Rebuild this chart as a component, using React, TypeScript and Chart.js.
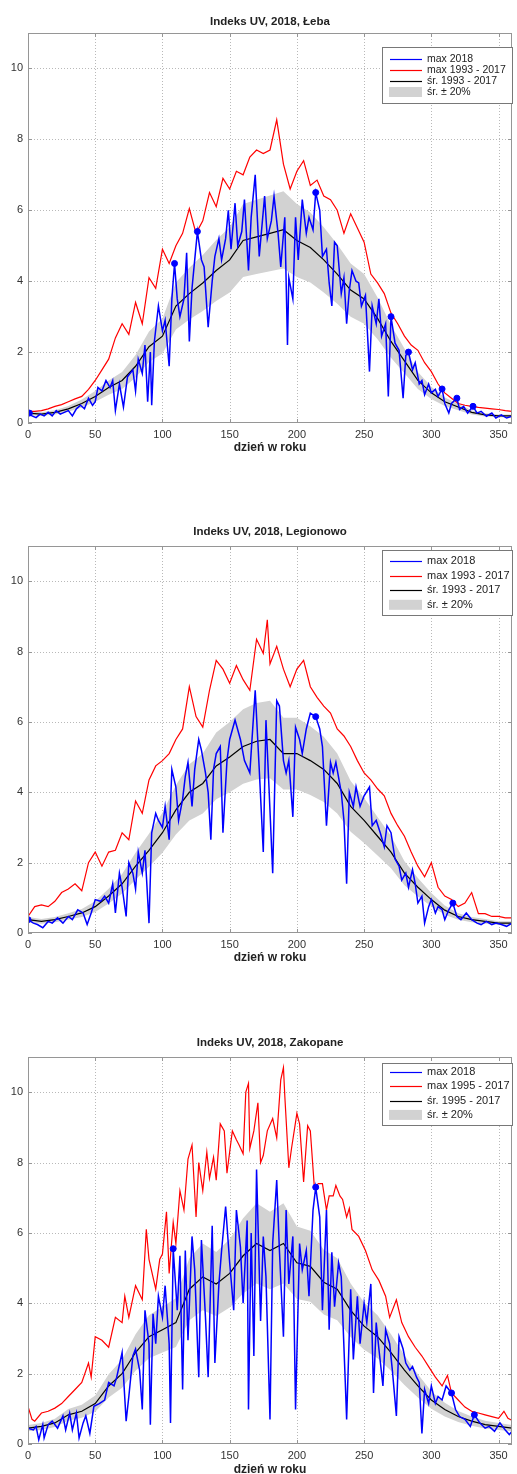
import React, { useEffect, useRef } from "react";
import { Chart, registerables } from "chart.js";

Chart.register(...registerables);

const FONT = 'Arial, "Liberation Sans", Helvetica, sans-serif';
Chart.defaults.font.family = FONT;

// ---------- shared axes ----------
const X_TICKS = [0, 50, 100, 150, 200, 250, 300, 350];
const Y_TICKS = [0, 2, 4, 6, 8, 10];
const X_MAX = 360;
const Y_MAX = 11;
const X_LABEL = "dzień w roku";

// ---------- Łeba ----------
const LEBA_TITLE = "Indeks UV, 2018, Łeba";
const LEBA_LEGEND = ["max 2018", "max 1993 - 2017", "śr. 1993 - 2017", "śr. ± 20%"];
const LEBA_2018_DAYS = [0, 3, 6, 9, 12, 15, 18, 21, 24, 27, 30, 33, 36, 39, 42, 45, 48, 50, 52, 55, 58, 61, 63, 65, 68, 71, 74, 78, 80, 82, 85, 87, 89, 91, 92, 94, 97, 100, 102, 105, 107, 109, 111, 113, 116, 118, 120, 122, 124, 126, 129, 131, 134, 137, 139, 142, 144, 147, 149, 151, 154, 156, 159, 161, 164, 166, 169, 172, 176, 178, 181, 183, 186, 188, 191, 193, 194, 197, 199, 201, 204, 207, 209, 212, 214, 217, 219, 222, 224, 226, 228, 230, 233, 235, 237, 239, 241, 244, 246, 248, 251, 254, 256, 259, 261, 263, 266, 268, 270, 273, 276, 279, 281, 283, 286, 288, 291, 293, 295, 298, 300, 303, 305, 308, 310, 313, 315, 319, 321, 324, 327, 331, 334, 337, 341, 345, 348, 352, 356, 360];
const LEBA_2018_UV = [0.28, 0.2, 0.15, 0.25, 0.2, 0.3, 0.2, 0.35, 0.25, 0.3, 0.35, 0.2, 0.4, 0.5, 0.4, 0.7, 0.5, 0.6, 1.0, 0.9, 1.2, 1.0, 1.2, 0.35, 1.1, 0.45, 1.3, 1.5, 0.9, 1.8, 1.4, 2.2, 0.6, 2.0, 0.5, 2.3, 3.3, 2.6, 2.9, 1.6, 3.5, 4.5, 3.5, 3.0, 3.5, 4.8, 2.3, 3.8, 4.6, 5.4, 4.6, 4.4, 2.7, 4.0, 4.7, 5.2, 4.6, 5.2, 6.0, 4.9, 6.2, 5.0, 5.4, 6.3, 4.3, 5.8, 7.0, 4.7, 6.4, 5.2, 5.7, 6.4, 5.35, 4.4, 5.8, 2.2, 4.1, 3.5, 5.8, 4.6, 6.3, 5.35, 5.8, 5.45, 6.5, 6.0, 4.7, 4.9, 3.95, 3.3, 5.1, 5.0, 3.65, 4.1, 2.8, 3.75, 4.3, 4.0, 3.95, 3.3, 3.6, 1.45, 3.3, 2.8, 3.5, 2.45, 2.8, 0.75, 3.0, 2.25, 2.05, 0.7, 1.9, 2.0, 1.5, 1.7, 1.1, 1.2, 0.8, 1.1, 0.85, 0.95, 0.75, 0.96, 0.55, 0.28, 0.55, 0.7, 0.38, 0.47, 0.28, 0.47, 0.28, 0.33, 0.19, 0.28, 0.14, 0.23, 0.14, 0.19];
const LEBA_MAX_DAYS = [0, 5, 10, 15, 20, 25, 30, 35, 40, 45, 50, 55, 60, 65, 70, 75, 80, 85, 90, 95, 100, 105, 110, 115, 120, 125, 130, 135, 140, 145, 150, 155, 160, 165, 170, 175, 180, 185, 190, 195, 200, 205, 210, 215, 220, 225, 230, 235, 240, 245, 250, 255, 260, 265, 270, 275, 280, 285, 290, 295, 300, 305, 310, 315, 320, 325, 330, 335, 340, 345, 350, 355, 360];
const LEBA_MAX_UV = [0.33, 0.33, 0.35, 0.4, 0.47, 0.52, 0.6, 0.68, 0.75, 0.95, 1.2, 1.5, 1.8, 2.4, 2.8, 2.5, 3.4, 2.8, 4.1, 3.8, 4.9, 4.5, 5.0, 5.35, 6.05, 5.35, 5.7, 6.5, 6.1, 6.9, 6.6, 7.1, 7.0, 7.5, 7.7, 7.6, 7.7, 8.55, 7.3, 6.6, 7.1, 7.4, 6.7, 6.85, 6.4, 6.3, 6.0, 5.35, 5.9, 5.5, 5.1, 4.2, 3.95, 3.65, 3.1, 2.8, 2.45, 2.2, 2.05, 1.7, 1.45, 1.1, 0.85, 0.7, 0.55, 0.5, 0.47, 0.44, 0.42, 0.4, 0.38, 0.35, 0.33];
const LEBA_MEAN_DAYS = [0, 10, 20, 30, 40, 50, 60, 70, 80, 90, 100, 110, 120, 130, 140, 150, 160, 170, 180, 190, 200, 210, 220, 230, 240, 250, 260, 270, 280, 290, 300, 310, 320, 330, 340, 350, 360];
const LEBA_MEAN_UV = [0.28, 0.25, 0.3, 0.4, 0.55, 0.75, 1.0, 1.2, 1.6, 2.15, 2.45, 3.3, 3.65, 3.95, 4.3, 4.6, 5.15, 5.25, 5.35, 5.45, 5.15, 4.95, 4.6, 4.2, 3.75, 3.5, 2.95, 2.3, 1.75, 1.2, 0.85, 0.6, 0.45, 0.3, 0.23, 0.2, 0.2];
const LEBA_REC_DAYS = [1, 109, 126, 214, 270, 283, 308, 319, 331];
const LEBA_REC_UV = [0.28, 4.5, 5.4, 6.5, 3.0, 2.0, 0.96, 0.7, 0.47];

// ---------- Legionowo ----------
const LEG_TITLE = "Indeks UV, 2018, Legionowo";
const LEG_LEGEND = ["max 2018", "max 1993 - 2017", "śr. 1993 - 2017", "śr. ± 20%"];
const LEG_2018_DAYS = [0, 4, 7, 11, 15, 18, 22, 26, 30, 33, 37, 41, 44, 47, 50, 54, 57, 60, 63, 65, 68, 70, 73, 75, 78, 80, 82, 85, 87, 90, 92, 95, 97, 100, 102, 105, 107, 110, 112, 115, 117, 119, 122, 124, 127, 129, 132, 134, 136, 138, 140, 143, 145, 148, 150, 154, 158, 161, 165, 169, 172, 175, 177, 179, 182, 185, 187, 190, 192, 194, 197, 199, 202, 204, 207, 210, 214, 217, 219, 222, 225, 227, 229, 233, 235, 237, 239, 242, 244, 247, 250, 254, 256, 259, 262, 265, 267, 270, 273, 276, 278, 281, 283, 286, 288, 290, 293, 295, 298, 300, 303, 305, 308, 310, 313, 316, 319, 322, 326, 330, 334, 337, 341, 345, 348, 352, 356, 360];
const LEG_2018_UV = [0.38, 0.28, 0.24, 0.15, 0.33, 0.28, 0.43, 0.28, 0.47, 0.38, 0.66, 0.57, 0.24, 0.57, 0.95, 0.9, 1.05, 0.85, 1.4, 0.57, 1.7, 1.3, 0.47, 2.0, 1.7, 1.25, 2.3, 1.7, 2.35, 0.28, 2.85, 3.4, 3.2, 3.0, 3.6, 2.65, 4.65, 4.15, 3.2, 3.8, 4.45, 4.85, 3.6, 4.65, 5.5, 5.2, 4.55, 4.0, 2.65, 4.65, 5.1, 5.3, 2.85, 4.9, 5.5, 6.05, 5.5, 4.9, 4.55, 6.9, 4.65, 2.3, 6.05, 4.35, 1.7, 6.6, 6.45, 4.9, 4.55, 4.9, 3.3, 5.85, 5.5, 5.1, 5.8, 6.25, 6.15, 5.8, 5.3, 3.05, 4.85, 4.55, 4.85, 4.0, 3.2, 1.4, 4.0, 3.6, 4.15, 3.6, 3.9, 4.15, 3.05, 3.2, 2.85, 2.45, 3.05, 2.85, 2.1, 1.9, 1.5, 1.7, 1.3, 1.8, 1.4, 0.85, 1.05, 0.28, 0.75, 0.95, 0.57, 0.75, 0.66, 0.38, 0.66, 0.85, 0.47, 0.38, 0.57, 0.38, 0.28, 0.24, 0.33, 0.24, 0.28, 0.24, 0.19, 0.28];
const LEG_MAX_DAYS = [0, 5, 10, 15, 20, 25, 30, 35, 40, 45, 50, 55, 60, 65, 70, 75, 80, 85, 90, 95, 100, 105, 110, 115, 120, 125, 130, 135, 140, 145, 150, 155, 160, 165, 170, 175, 178, 180, 185, 190, 195, 200, 205, 210, 215, 220, 225, 230, 235, 240, 245, 250, 255, 260, 265, 270, 275, 280, 285, 290, 295, 300, 305, 310, 315, 320, 325, 330, 335, 340, 345, 350, 355, 360];
const LEG_MAX_UV = [0.47, 0.75, 0.8, 0.75, 0.9, 1.15, 1.25, 1.4, 1.2, 2.0, 2.3, 1.9, 2.3, 2.35, 2.85, 2.65, 3.75, 3.4, 4.35, 4.75, 4.9, 5.1, 5.5, 5.8, 7.0, 6.15, 5.85, 6.9, 7.75, 7.5, 7.1, 7.6, 7.2, 6.9, 8.35, 7.95, 8.9, 7.65, 8.15, 7.5, 7.0, 7.5, 7.75, 7.0, 6.7, 6.45, 6.25, 5.8, 5.6, 5.3, 4.9, 4.55, 4.35, 4.1, 3.9, 3.4, 3.05, 2.75, 2.3, 1.9, 1.6, 2.0, 1.3, 1.05, 0.95, 0.75, 0.85, 1.15, 0.55, 0.55, 0.47, 0.47, 0.43, 0.43];
const LEG_MEAN_DAYS = [0, 10, 20, 30, 40, 50, 60, 70, 80, 90, 100, 110, 120, 130, 140, 150, 160, 170, 180, 190, 200, 210, 220, 230, 240, 250, 260, 270, 280, 290, 300, 310, 320, 330, 340, 350, 360];
const LEG_MEAN_UV = [0.38, 0.33, 0.38, 0.47, 0.57, 0.75, 1.05, 1.4, 1.9, 2.35, 2.85, 3.5, 4.0, 4.25, 4.75, 5.0, 5.3, 5.45, 5.5, 5.1, 5.1, 4.9, 4.65, 4.25, 3.6, 3.2, 2.75, 2.3, 1.7, 1.3, 0.95, 0.65, 0.47, 0.38, 0.33, 0.28, 0.28];
const LEG_REC_DAYS = [0, 214, 316];
const LEG_REC_UV = [0.38, 6.15, 0.85];

// ---------- Zakopane ----------
const ZAK_TITLE = "Indeks UV, 2018, Zakopane";
const ZAK_LEGEND = ["max 2018", "max 1995 - 2017", "śr. 1995 - 2017", "śr. ± 20%"];
const ZAK_2018_DAYS = [0, 4, 6, 8, 11, 12, 15, 18, 22, 26, 28, 31, 33, 36, 38, 41, 43, 46, 49, 53, 57, 60, 64, 66, 70, 73, 75, 78, 80, 83, 85, 87, 90, 91, 93, 95, 97, 100, 102, 105, 106, 108, 111, 113, 115, 117, 119, 122, 124, 127, 129, 132, 134, 137, 139, 142, 144, 147, 150, 153, 155, 158, 160, 163, 164, 166, 168, 170, 173, 175, 177, 180, 182, 185, 187, 190, 192, 194, 197, 199, 202, 204, 207, 209, 212, 214, 217, 219, 222, 224, 226, 228, 231, 233, 236, 237, 240, 242, 245, 247, 250, 252, 255, 257, 259, 261, 264, 266, 269, 271, 274, 276, 279, 281, 284, 286, 289, 291, 293, 295, 298, 300, 303, 305, 308, 311, 315, 318, 321, 325, 329, 332, 336, 340, 343, 347, 351, 355, 358, 361];
const ZAK_2018_UV = [0.45, 0.4, 0.5, 0.12, 0.55, 0.17, 0.55, 0.65, 0.45, 0.8, 0.4, 0.88, 0.4, 0.88, 0.17, 0.6, 0.8, 0.3, 1.07, 1.15, 1.25, 1.75, 1.65, 1.9, 2.6, 0.65, 1.35, 2.5, 2.7, 2.1, 0.98, 3.8, 2.85, 0.55, 3.7, 2.85, 4.2, 3.6, 4.5, 2.85, 0.6, 5.55, 3.8, 5.35, 1.55, 5.5, 2.95, 5.9, 4.95, 1.9, 5.8, 3.6, 1.9, 6.2, 2.3, 4.55, 5.5, 6.75, 5.15, 3.8, 6.65, 5.6, 4.0, 6.35, 0.98, 6.0, 2.5, 7.8, 3.5, 5.9, 4.75, 0.7, 5.7, 7.5, 5.5, 3.05, 6.65, 4.55, 5.9, 0.98, 5.7, 4.95, 5.5, 4.2, 6.65, 7.3, 6.45, 3.8, 6.65, 3.25, 5.45, 3.9, 5.15, 4.75, 1.75, 0.7, 4.4, 2.4, 4.2, 2.85, 4.0, 3.45, 4.55, 1.45, 3.45, 2.7, 1.65, 3.25, 2.85, 2.1, 0.8, 3.05, 2.7, 2.3, 2.1, 2.2, 1.9, 1.75, 0.3, 1.55, 1.15, 1.65, 1.15, 1.35, 1.25, 1.65, 1.45, 0.98, 0.78, 0.7, 0.5, 0.83, 0.6, 0.45, 0.5, 0.36, 0.6, 0.4, 0.27, 0.4];
const ZAK_MAX_DAYS = [0, 3, 5, 10, 15, 20, 25, 30, 35, 40, 45, 47, 50, 55, 60, 65, 70, 72, 75, 80, 85, 88, 90, 95, 98, 100, 103, 105, 108, 110, 113, 116, 119, 122, 125, 127, 130, 133, 135, 138, 140, 143, 146, 148, 152, 155, 157, 160, 162, 164, 165, 168, 171, 173, 175, 178, 182, 185, 188, 190, 191, 194, 196, 200, 202, 205, 208, 210, 213, 216, 219, 222, 224, 227, 229, 232, 234, 237, 239, 241, 246, 251, 256, 261, 266, 269, 274, 278, 283, 288, 293, 298, 303, 308, 312, 315, 320, 325, 330, 335, 340, 345, 350, 354, 357, 361];
const ZAK_MAX_UV = [1.07, 0.7, 0.65, 0.88, 0.93, 1.02, 1.15, 1.35, 1.55, 1.75, 2.3, 1.9, 3.05, 2.95, 2.75, 3.6, 3.45, 4.2, 3.6, 4.5, 4.1, 6.1, 5.25, 4.4, 5.25, 5.4, 6.6, 4.85, 6.3, 5.7, 7.2, 6.65, 8.1, 8.5, 6.45, 8.0, 7.2, 8.3, 7.55, 8.15, 7.5, 9.1, 8.9, 7.7, 8.9, 8.65, 8.5, 8.25, 10.0, 10.25, 8.4, 8.9, 9.7, 8.0, 8.2, 8.9, 9.25, 8.7, 10.35, 10.7, 9.9, 7.85, 8.4, 9.4, 9.1, 7.45, 9.05, 8.9, 7.3, 7.4, 7.4, 6.65, 7.05, 7.05, 7.35, 7.05, 6.95, 6.45, 6.7, 6.1, 5.9, 5.5, 4.95, 4.65, 4.2, 3.6, 4.1, 3.45, 3.05, 2.75, 2.5, 2.2, 1.9, 1.65, 1.95, 1.45, 1.25, 1.05, 0.93, 0.88, 0.83, 0.78, 0.73, 0.93, 0.73, 0.65];
const ZAK_MEAN_DAYS = [0, 10, 20, 30, 40, 50, 60, 70, 80, 90, 100, 110, 120, 130, 140, 150, 160, 170, 180, 190, 200, 210, 220, 230, 240, 250, 260, 270, 280, 290, 300, 310, 320, 330, 340, 350, 360];
const ZAK_MEAN_UV = [0.45, 0.5, 0.6, 0.83, 0.93, 1.15, 1.65, 2.0, 2.6, 3.05, 3.25, 3.45, 4.4, 4.75, 4.55, 4.85, 5.35, 5.7, 5.5, 5.7, 5.15, 5.05, 4.6, 4.4, 3.8, 3.35, 3.05, 2.6, 2.1, 1.65, 1.25, 0.98, 0.78, 0.65, 0.55, 0.5, 0.45];
const ZAK_REC_DAYS = [108, 214, 315, 332];
const ZAK_REC_UV = [5.55, 7.3, 1.45, 0.83];

// ---------- panels ----------
type Series = { days: number[]; uv: number[] };
type PanelCfg = {
  title: string;
  legend: string[];
  blue: Series;
  red: Series;
  mean: Series;
  rec: Series;
  top: number;
  plotH: number;
  xAxisH: number;
  titleOff: number;
  labelOff: number;
  legTop: number;
  legH: number;
  legRow0: number;
  legStep: number;
  legFont: number;
};

const PANELS: PanelCfg[] = [
  {
    title: LEBA_TITLE, legend: LEBA_LEGEND,
    blue: { days: LEBA_2018_DAYS, uv: LEBA_2018_UV },
    red: { days: LEBA_MAX_DAYS, uv: LEBA_MAX_UV },
    mean: { days: LEBA_MEAN_DAYS, uv: LEBA_MEAN_UV },
    rec: { days: LEBA_REC_DAYS, uv: LEBA_REC_UV },
    top: 0, plotH: 390, xAxisH: 47, titleOff: 11, labelOff: 25,
    legTop: 14, legH: 56, legRow0: 26, legStep: 11, legFont: 10.5,
  },
  {
    title: LEG_TITLE, legend: LEG_LEGEND,
    blue: { days: LEG_2018_DAYS, uv: LEG_2018_UV },
    red: { days: LEG_MAX_DAYS, uv: LEG_MAX_UV },
    mean: { days: LEG_MEAN_DAYS, uv: LEG_MEAN_UV },
    rec: { days: LEG_REC_DAYS, uv: LEG_REC_UV },
    top: 513, plotH: 387, xAxisH: 47, titleOff: 14, labelOff: 25,
    legTop: 4, legH: 65, legRow0: 15, legStep: 14.6, legFont: 11,
  },
  {
    title: ZAK_TITLE, legend: ZAK_LEGEND,
    blue: { days: ZAK_2018_DAYS, uv: ZAK_2018_UV },
    red: { days: ZAK_MAX_DAYS, uv: ZAK_MAX_UV },
    mean: { days: ZAK_MEAN_DAYS, uv: ZAK_MEAN_UV },
    rec: { days: ZAK_REC_DAYS, uv: ZAK_REC_UV },
    top: 1024, plotH: 387, xAxisH: 30, titleOff: 14, labelOff: 26,
    legTop: 6, legH: 62, legRow0: 15, legStep: 14.3, legFont: 11,
  },
];

const PAD_TOP = 33;
const CANVAS_W = 517;

const pts = (s: Series, k = 1) => s.days.map((d, i) => ({ x: d, y: s.uv[i] * k }));

const BLUE = "#0000ff";
const RED = "#ff0000";
const BAND = "rgb(210,210,210)";

function framePlugin(p: PanelCfg) {
  return {
    id: "frame",
    beforeDatasetsDraw(chart: any) {
      const { ctx, chartArea: a, scales } = chart;
      ctx.save();
      ctx.strokeStyle = "rgb(185,185,185)";
      ctx.lineWidth = 1;
      ctx.setLineDash([1, 2]);
      ctx.beginPath();
      X_TICKS.forEach((v) => {
        if (v === 0) return;
        const x = Math.round(scales.x.getPixelForValue(v)) + 0.5;
        ctx.moveTo(x, a.top);
        ctx.lineTo(x, a.bottom);
      });
      Y_TICKS.forEach((v) => {
        if (v === 0) return;
        const y = Math.round(scales.y.getPixelForValue(v)) + 0.5;
        ctx.moveTo(a.left, y);
        ctx.lineTo(a.right, y);
      });
      ctx.stroke();
      ctx.restore();
    },
    afterDatasetsDraw(chart: any) {
      const { ctx, chartArea: a, scales } = chart;
      ctx.save();
      ctx.strokeStyle = "rgb(150,150,150)";
      ctx.lineWidth = 1;
      ctx.setLineDash([]);
      ctx.strokeRect(Math.round(a.left) + 0.5, Math.round(a.top) + 0.5, Math.round(a.right - a.left) - 1, Math.round(a.bottom - a.top) - 1);
      ctx.beginPath();
      const tl = 4;
      X_TICKS.forEach((v) => {
        const x = Math.round(scales.x.getPixelForValue(v)) + 0.5;
        ctx.moveTo(x, a.bottom);
        ctx.lineTo(x, a.bottom - tl);
        ctx.moveTo(x, a.top);
        ctx.lineTo(x, a.top + tl);
      });
      Y_TICKS.forEach((v) => {
        const y = Math.round(scales.y.getPixelForValue(v)) + 0.5;
        ctx.moveTo(a.left, y);
        ctx.lineTo(a.left + tl, y);
        ctx.moveTo(a.right, y);
        ctx.lineTo(a.right - tl, y);
      });
      ctx.stroke();
      ctx.restore();
    },
    afterDraw(chart: any) {
      const { ctx, chartArea: a } = chart;
      ctx.save();
      const cx = (a.left + a.right) / 2;
      ctx.fillStyle = "#222";
      ctx.textAlign = "center";
      ctx.textBaseline = "middle";
      ctx.font = `bold 11.5px ${FONT}`;
      ctx.fillText(p.title, cx, a.top - p.titleOff);
      ctx.font = `bold 12px ${FONT}`;
      ctx.fillText(X_LABEL, cx, a.bottom + p.labelOff);

      // legend
      const lx = 382;
      const lw = 130;
      const ly = a.top + p.legTop;
      ctx.fillStyle = "#ffffff";
      ctx.fillRect(lx, ly, lw, p.legH);
      ctx.strokeStyle = "rgb(120,120,120)";
      ctx.lineWidth = 1;
      ctx.strokeRect(lx + 0.5, ly + 0.5, lw, p.legH);
      const colors = [BLUE, RED, "#000000"];
      ctx.font = `${p.legFont}px ${FONT}`;
      ctx.textAlign = "left";
      p.legend.forEach((txt, i) => {
        const ry = a.top + p.legRow0 + i * p.legStep;
        if (i < 3) {
          ctx.strokeStyle = colors[i];
          ctx.lineWidth = 1.2;
          ctx.beginPath();
          ctx.moveTo(390, Math.round(ry) + 0.5);
          ctx.lineTo(422, Math.round(ry) + 0.5);
          ctx.stroke();
        } else {
          ctx.fillStyle = BAND;
          ctx.fillRect(389, ry - 5, 33, 10);
        }
        ctx.fillStyle = "#222";
        ctx.fillText(txt, 427, ry);
      });
      ctx.restore();
    },
  };
}

function Panel({ cfg }: { cfg: PanelCfg }) {
  const ref = useRef<HTMLCanvasElement | null>(null);
  const height = PAD_TOP + cfg.plotH + cfg.xAxisH;
  useEffect(() => {
    if (!ref.current) return;
    // Chart.js draws dataset 0 last (on top), so the list runs top -> bottom.
    const chart = new Chart(ref.current, {
      type: "line",
      data: {
        datasets: [
          { data: pts(cfg.rec), showLine: false, pointRadius: 3, pointBackgroundColor: BLUE, pointBorderColor: BLUE, borderColor: BLUE, backgroundColor: BLUE },
          { data: pts(cfg.blue), borderColor: BLUE, borderWidth: 1.5, pointRadius: 0, fill: false },
          { data: pts(cfg.red), borderColor: RED, borderWidth: 1.2, pointRadius: 0, fill: false },
          { data: pts(cfg.mean), borderColor: "#000000", borderWidth: 1.2, pointRadius: 0, fill: false },
          { data: pts(cfg.mean, 1.2), borderWidth: 0, pointRadius: 0, fill: "+1", backgroundColor: BAND, borderColor: "rgba(0,0,0,0)" },
          { data: pts(cfg.mean, 0.8), borderWidth: 0, pointRadius: 0, fill: false, borderColor: "rgba(0,0,0,0)" },
        ] as any,
      },
      options: {
        responsive: false,
        animation: false,
        layout: { padding: { top: PAD_TOP, right: 2, left: 0, bottom: 0 } },
        plugins: { legend: { display: false }, tooltip: { enabled: false }, title: { display: false } },
        elements: { line: { tension: 0 } },
        scales: {
          x: {
            type: "linear",
            min: 0,
            max: X_MAX,
            afterBuildTicks: (s: any) => { s.ticks = X_TICKS.map((v) => ({ value: v })); },
            afterFit: (s: any) => { s.height = cfg.xAxisH; },
            ticks: { font: { size: 11, family: FONT }, color: "#333", padding: 5, maxRotation: 0, autoSkip: false },
            grid: { display: false, drawTicks: false },
            border: { display: false },
          },
          y: {
            type: "linear",
            min: 0,
            max: Y_MAX,
            afterBuildTicks: (s: any) => { s.ticks = Y_TICKS.map((v) => ({ value: v })); },
            afterFit: (s: any) => { s.width = 28; },
            ticks: { font: { size: 11, family: FONT }, color: "#333", padding: 5 },
            grid: { display: false, drawTicks: false },
            border: { display: false },
          },
        },
      } as any,
      plugins: [framePlugin(cfg)],
    });
    return () => chart.destroy();
  }, [cfg]);
  return (
    <canvas
      ref={ref}
      width={CANVAS_W}
      height={height}
      style={{ position: "absolute", left: 0, top: cfg.top, width: CANVAS_W, height }}
    />
  );
}

export default function App() {
  return (
    <div style={{ position: "absolute", left: 0, top: 0, width: CANVAS_W, height: 1474, background: "#fff", overflow: "hidden" }}>
      {PANELS.map((p, i) => (
        <Panel key={i} cfg={p} />
      ))}
    </div>
  );
}
